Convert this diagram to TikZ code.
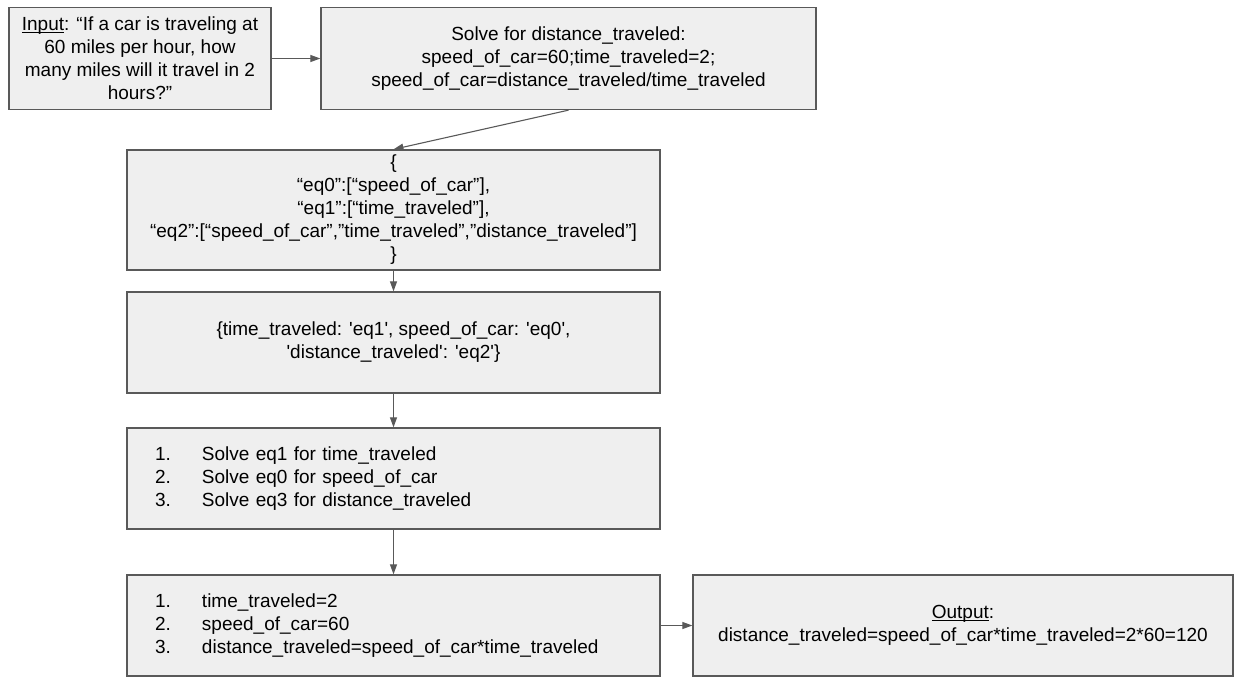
\documentclass[tikz,border=0pt]{standalone}
\usepackage{fontspec}
\setmainfont{Liberation Sans}
\usetikzlibrary{arrows.meta}
\definecolor{boxfill}{RGB}{239,239,239}
\definecolor{boxline}{RGB}{89,89,89}
\newcommand{\sq}{\textquotesingle}
\newcommand{\itm}[1]{\makebox[47pt][l]{#1}}
\newcommand{\myul}[1]{\setbox0\hbox{#1}\rlap{\rule[-2.6pt]{\wd0}{1.1pt}}#1}
\tikzset{
  box/.style={draw=boxline, fill=boxfill, line width=1.3pt, inner sep=0pt,
    align=center, font=\fontsize{19}{23}\selectfont},
  listbox/.style={box, align=left, inner xsep=28pt},
  conn/.style={draw=boxline, line width=1.1pt, -{Triangle[length=10pt,width=7pt]}}
}
\begin{document}
\begin{tikzpicture}[x=1pt,y=-1pt]
\useasboundingbox (0,0) rectangle (1235,681);
\node[box, minimum width=262pt, minimum height=102pt] (input) at (140,58.5)
  {\myul{Input}: “If a car is traveling at\\60 miles per hour, how\\many miles will it travel in 2\\hours?”};
\node[box, minimum width=495pt, minimum height=102pt] (solve) at (568.5,58.5)
  {Solve for distance\_traveled:\\speed\_of\_car=60;time\_traveled=2;\\speed\_of\_car=distance\_traveled/time\_traveled};
\node[box, minimum width=533pt, minimum height=120pt] (json) at (393.5,210)
  {\{\\“eq0”:[“speed\_of\_car”],\\“eq1”:[“time\_traveled”],\\“eq2”:[“speed\_of\_car”,”time\_traveled”,”distance\_traveled”]\\\}};
\node[box, minimum width=533pt, minimum height=101pt] (dict) at (393.5,342.5)
  {\{time\_traveled: \sq eq1\sq, speed\_of\_car: \sq eq0\sq,\\\sq distance\_traveled\sq: \sq eq2\sq\}};
\node[listbox, text width=477pt, minimum height=101pt] (plan) at (393.5,478.5)
  {\itm{1.}Solve eq1 for time\_traveled\\\itm{2.}Solve eq0 for speed\_of\_car\\\itm{3.}Solve eq3 for distance\_traveled};
\node[listbox, text width=477pt, minimum height=101pt] (values) at (393.5,625.5)
  {\itm{1.}time\_traveled=2\\\itm{2.}speed\_of\_car=60\\\itm{3.}distance\_traveled=speed\_of\_car*time\_traveled};
\node[box, minimum width=540pt, minimum height=101pt] (output) at (963,625.5)
  {\myul{Output}:\\distance\_traveled=speed\_of\_car*time\_traveled=2*60=120};
\draw[conn] (input.east) -- (solve.west);
\draw[conn] (solve.south) -- (json.north);
\draw[conn] (json.south) -- (dict.north);
\draw[conn] (dict.south) -- (plan.north);
\draw[conn] (plan.south) -- (values.north);
\draw[conn] (values.east) -- (output.west);
\end{tikzpicture}
\end{document}
